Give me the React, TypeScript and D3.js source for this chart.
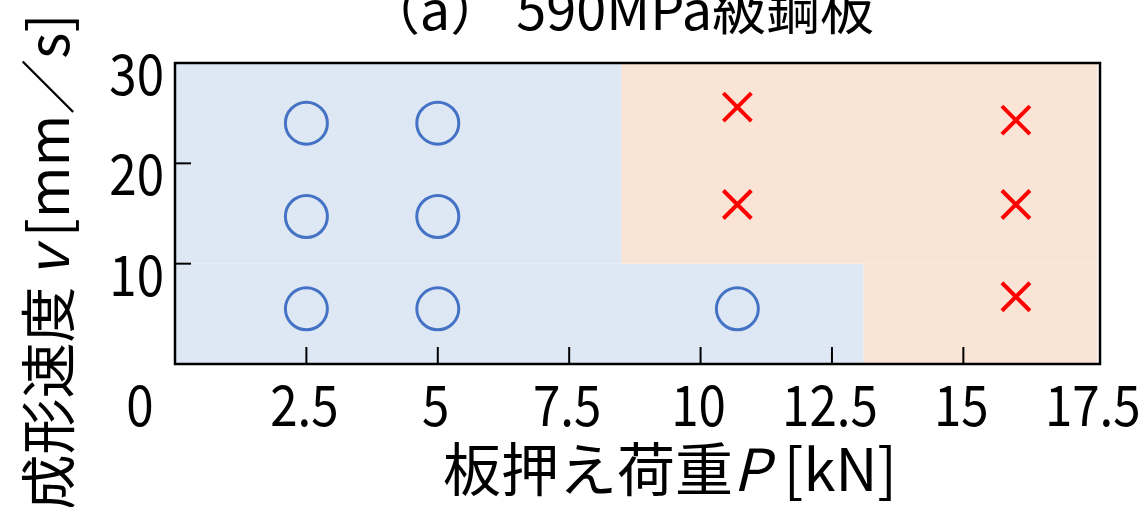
import React from "react";
import * as d3 from "d3";

const W = 1144;
const H = 507;

// data
const okLoad = [2.5, 2.5, 2.5, 5, 5, 5, 10.7];
const okSpeed = [24, 14.7, 5.5, 24, 14.7, 5.5, 5.5];
const ngLoad = [10.7, 10.7, 16, 16, 16];
const ngSpeed = [25.6, 15.9, 24.3, 15.9, 6.7];
const xTicks = [0, 2.5, 5, 7.5, 10, 12.5, 15, 17.5];
const yTicks = [10, 20, 30];
const safeZones = [
  { x0: 0, x1: 8.5, y0: 10, y1: 30 },
  { x0: 0, x1: 13.1, y0: 0, y1: 10 },
];
const failZones = [
  { x0: 8.5, x1: 17.55, y0: 10, y1: 30 },
  { x0: 13.1, x1: 17.55, y0: 0, y1: 10 },
];

const FONT = "'Noto Sans CJK JP', 'Noto Sans', sans-serif";
const SX = 0.88;

export default function App() {
  const x = d3.scaleLinear().domain([0, 17.6]).range([175, 1100]);
  const y = d3.scaleLinear().domain([0, 30]).range([364, 63]);
  const cross = 14;
  return (
    <svg
      width={W}
      height={H}
      style={{ position: "absolute", left: 0, top: 0, background: "#fff" }}
      fontFamily={FONT}
    >
      <text x={620} y={30} fontSize={54} textAnchor="middle" fill="#000">
        （a） 590MPa級鋼板
      </text>
      {safeZones.map((r, i) => (
        <rect
          key={"s" + i}
          x={x(r.x0)}
          y={y(r.y1)}
          width={x(r.x1) - x(r.x0)}
          height={y(r.y0) - y(r.y1)}
          fill="#DEE8F4"
        />
      ))}
      {failZones.map((r, i) => (
        <rect
          key={"f" + i}
          x={x(r.x0)}
          y={y(r.y1)}
          width={x(r.x1) - x(r.x0)}
          height={y(r.y0) - y(r.y1)}
          fill="#FAE4D6"
        />
      ))}
      <rect
        x={x(0)}
        y={y(30)}
        width={x(17.6) - x(0)}
        height={y(0) - y(30)}
        fill="none"
        stroke="#000"
        strokeWidth={2.5}
      />
      {xTicks
        .filter((t) => t > 0 && t < 17.5)
        .map((t) => (
          <line key={"xt" + t} x1={x(t)} x2={x(t)} y1={y(0)} y2={y(0) - 17} stroke="#000" strokeWidth={2} />
        ))}
      {yTicks
        .filter((t) => t < 30)
        .map((t) => (
          <line key={"yt" + t} x1={x(0)} x2={x(0) + 16} y1={y(t)} y2={y(t)} stroke="#000" strokeWidth={2} />
        ))}
      {xTicks.map((t) => (
        <text
          key={"xl" + t}
          transform={`translate(${t === 0 ? x(t) - 35 : x(t) - 2},426) scale(${SX},1)`}
          fontSize={56}
          textAnchor="middle"
          fill="#000"
        >
          {String(t)}
        </text>
      ))}
      {yTicks.map((t) => (
        <text
          key={"yl" + t}
          transform={`translate(164,${y(t) + 32}) scale(${SX},1)`}
          fontSize={56}
          textAnchor="end"
          fill="#000"
        >
          {String(t)}
        </text>
      ))}
      {okLoad.map((v, i) => (
        <circle key={"o" + i} cx={x(v)} cy={y(okSpeed[i])} r={21} fill="none" stroke="#4472C4" strokeWidth={3} />
      ))}
      {ngLoad.map((v, i) => {
        const cx = x(v);
        const cy = y(ngSpeed[i]);
        return (
          <g key={"x" + i} stroke="#FF0000" strokeWidth={4}>
            <line x1={cx - cross} y1={cy - cross} x2={cx + cross} y2={cy + cross} />
            <line x1={cx - cross} y1={cy + cross} x2={cx + cross} y2={cy - cross} />
          </g>
        );
      })}
      <text x={670} y={491} fontSize={58} textAnchor="middle" fill="#000">
        板押え荷重<tspan fontStyle="italic">P</tspan>
        <tspan dx={14}>[kN]</tspan>
      </text>
      <text
        transform="translate(69,262) rotate(-90)"
        fontSize={56}
        textAnchor="middle"
        fill="#000"
      >
        成形速度<tspan dx={10} fontStyle="italic">v</tspan>
        <tspan dx={10}>[mm／s]</tspan>
      </text>
    </svg>
  );
}
